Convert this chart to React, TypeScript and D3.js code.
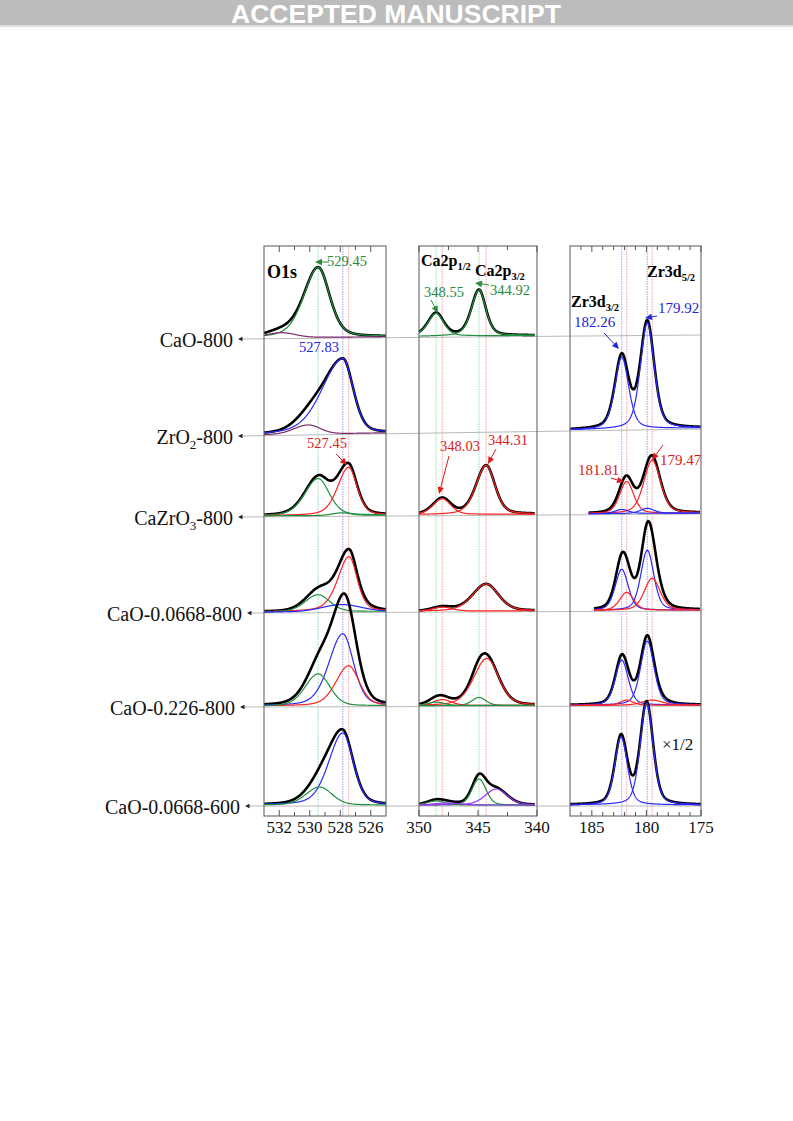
import * as d3 from 'd3';

// sample names, odd entries are subscripts
const sampleNames: string[][] = [
  ['CaO-800'],
  ['ZrO', '2', '-800'],
  ['CaZrO', '3', '-800'],
  ['CaO-0.0668-800'],
  ['CaO-0.226-800'],
  ['CaO-0.0668-600'],
];

interface Peak {
  row: number;
  be: number; // binding energy, eV
  h: number; // intensity, a.u.
  fwhm: number; // eV
  eta: number; // lorentzian fraction
  asym: number; // high-BE / low-BE half width ratio
  sp: string;
}

const o1sPeaks: Peak[] = [
  { row: 0, be: 529.45, h: 70, fwhm: 2.0, eta: 0.35, asym: 1.25, sp: 'CaO' },
  { row: 0, be: 531.9, h: 5, fwhm: 2.2, eta: 0, asym: 1, sp: 'OH' },
  { row: 1, be: 527.83, h: 75, fwhm: 2.4, eta: 0.3, asym: 2.0, sp: 'ZrO2' },
  { row: 1, be: 530.1, h: 9, fwhm: 2.0, eta: 0, asym: 1.2, sp: 'OH' },
  { row: 2, be: 529.45, h: 37, fwhm: 1.9, eta: 0.3, asym: 1.2, sp: 'CaO' },
  { row: 2, be: 527.45, h: 48, fwhm: 1.5, eta: 0.35, asym: 1.3, sp: 'CaZrO3' },
  { row: 2, be: 527.9, h: 2.5, fwhm: 1.4, eta: 0, asym: 1, sp: 'CaO' },
  { row: 3, be: 527.42, h: 55, fwhm: 1.5, eta: 0.4, asym: 1.4, sp: 'CaZrO3' },
  { row: 3, be: 529.45, h: 17, fwhm: 1.9, eta: 0.2, asym: 1.1, sp: 'CaO' },
  { row: 3, be: 527.9, h: 7, fwhm: 3.0, eta: 0, asym: 1, sp: 'ZrO2' },
  { row: 4, be: 527.83, h: 72, fwhm: 1.9, eta: 0.3, asym: 1.3, sp: 'ZrO2' },
  { row: 4, be: 527.45, h: 40, fwhm: 1.8, eta: 0.3, asym: 1.2, sp: 'CaZrO3' },
  { row: 4, be: 529.45, h: 32, fwhm: 1.9, eta: 0.2, asym: 1.1, sp: 'CaO' },
  { row: 5, be: 527.83, h: 72, fwhm: 1.9, eta: 0.3, asym: 1.35, sp: 'ZrO2' },
  { row: 5, be: 529.35, h: 18, fwhm: 2.0, eta: 0.2, asym: 1.1, sp: 'CaO' },
];

const ca2pPeaks: Peak[] = [
  { row: 0, be: 344.92, h: 46, fwhm: 1.45, eta: 0.4, asym: 1.1, sp: 'CaO' },
  { row: 0, be: 348.55, h: 23, fwhm: 1.6, eta: 0.4, asym: 1.1, sp: 'CaO' },
  { row: 2, be: 344.31, h: 49, fwhm: 1.9, eta: 0.35, asym: 1.15, sp: 'CaZrO3' },
  { row: 2, be: 348.03, h: 16, fwhm: 1.8, eta: 0.35, asym: 1.1, sp: 'CaZrO3' },
  { row: 3, be: 344.31, h: 27, fwhm: 2.6, eta: 0.3, asym: 1.1, sp: 'CaZrO3' },
  { row: 3, be: 348.03, h: 4, fwhm: 2.0, eta: 0.2, asym: 1, sp: 'CaZrO3' },
  { row: 4, be: 344.25, h: 47, fwhm: 2.5, eta: 0.3, asym: 1.1, sp: 'CaZrO3' },
  { row: 4, be: 344.92, h: 8, fwhm: 1.4, eta: 0.2, asym: 1, sp: 'CaO' },
  { row: 4, be: 348.03, h: 6, fwhm: 1.8, eta: 0.3, asym: 1, sp: 'CaZrO3' },
  { row: 4, be: 348.55, h: 3.5, fwhm: 1.6, eta: 0.2, asym: 1, sp: 'CaO' },
  { row: 5, be: 344.92, h: 26, fwhm: 1.4, eta: 0.2, asym: 1, sp: 'CaO' },
  { row: 5, be: 343.45, h: 16, fwhm: 2.2, eta: 0.3, asym: 1, sp: 'X' },
  { row: 5, be: 348.55, h: 4, fwhm: 1.8, eta: 0.2, asym: 1, sp: 'CaO' },
  { row: 5, be: 347.6, h: 2, fwhm: 2.5, eta: 0, asym: 1, sp: 'X' },
];

const zr3dPeaks: Peak[] = [
  { row: 1, be: 179.92, h: 106, fwhm: 1.5, eta: 0.4, asym: 1, sp: 'ZrO2' },
  { row: 1, be: 182.26, h: 72, fwhm: 1.5, eta: 0.4, asym: 1, sp: 'ZrO2' },
  { row: 2, be: 179.47, h: 53, fwhm: 1.8, eta: 0.35, asym: 1, sp: 'CaZrO3' },
  { row: 2, be: 181.81, h: 32, fwhm: 1.5, eta: 0.35, asym: 1, sp: 'CaZrO3' },
  { row: 2, be: 179.92, h: 5, fwhm: 1.5, eta: 0.3, asym: 1, sp: 'ZrO2' },
  { row: 2, be: 182.26, h: 4, fwhm: 1.5, eta: 0.3, asym: 1, sp: 'ZrO2' },
  { row: 3, be: 179.92, h: 60, fwhm: 1.4, eta: 0.35, asym: 1, sp: 'ZrO2' },
  { row: 3, be: 182.26, h: 41, fwhm: 1.4, eta: 0.35, asym: 1, sp: 'ZrO2' },
  { row: 3, be: 179.47, h: 32, fwhm: 1.7, eta: 0.35, asym: 1, sp: 'CaZrO3' },
  { row: 3, be: 181.81, h: 18, fwhm: 1.5, eta: 0.35, asym: 1, sp: 'CaZrO3' },
  { row: 4, be: 179.92, h: 64, fwhm: 1.45, eta: 0.35, asym: 1, sp: 'ZrO2' },
  { row: 4, be: 182.26, h: 45, fwhm: 1.4, eta: 0.35, asym: 1, sp: 'ZrO2' },
  { row: 4, be: 181.81, h: 5, fwhm: 1.4, eta: 0.2, asym: 1, sp: 'CaZrO3' },
  { row: 4, be: 179.47, h: 5, fwhm: 2.2, eta: 0.2, asym: 1, sp: 'CaZrO3' },
  { row: 5, be: 179.98, h: 102, fwhm: 1.4, eta: 0.35, asym: 1, sp: 'ZrO2' },
  { row: 5, be: 182.32, h: 68, fwhm: 1.35, eta: 0.35, asym: 1, sp: 'ZrO2' },
];

// reference binding energies (dotted lines + labels)
const o1sRefs = [
  { be: 529.45, sp: 'CaO' },
  { be: 527.83, sp: 'ZrO2' },
  { be: 527.45, sp: 'CaZrO3' },
];
const ca2pRefs = [
  { be: 348.55, sp: 'CaO' },
  { be: 344.92, sp: 'CaO' },
  { be: 348.03, sp: 'CaZrO3' },
  { be: 344.31, sp: 'CaZrO3' },
];
const zr3dRefs = [
  { be: 182.26, sp: 'ZrO2' },
  { be: 179.92, sp: 'ZrO2' },
  { be: 181.81, sp: 'CaZrO3' },
  { be: 179.47, sp: 'CaZrO3' },
];

const o1sMajor = [532, 530, 528, 526];
const o1sMinor = [531, 529, 527];
const ca2pMajor = [350, 345, 340];
const ca2pMinor = [347.5, 342.5];
const zr3dMajor = [185, 180, 175];
const zr3dMinor = [186, 184, 183, 182, 181, 179, 178, 177, 176];

// colours
const curveColor: Record<string, string> = {
  CaO: '#1f9040',
  ZrO2: '#2a2aff',
  CaZrO3: '#ff2222',
  OH: '#7b2a6e',
  X: '#9b30ff',
};
const textColor: Record<string, string> = {
  CaO: '#2b8a3e',
  ZrO2: '#2424dd',
  CaZrO3: '#dd1a1a',
};
const refColor: Record<string, string> = {
  CaO: '#b4e2c2',
  ZrO2: '#b6b6f4',
  CaZrO3: '#f7b6b6',
};

const TOP = 246;
const BOTTOM = 816;
const RIGHT_X = 701;
const lineL = [240, 240, 240, 249, 242, 247];
const lineLY = [339, 436, 517, 613, 707, 806];
const lineRY = [335, 429, 514, 611, 706, 806];
const rowY = (r: number, x: number) =>
  lineLY[r] + ((lineRY[r] - lineLY[r]) * (x - lineL[r])) / (RIGHT_X - lineL[r]);

const yI = d3.scaleLinear().domain([0, 100]).range([0, 100]);

function pv(x: number, p: Peak) {
  const d = x - p.be;
  const hw = d > 0 ? (p.fwhm / 2) * ((2 * p.asym) / (1 + p.asym)) : (p.fwhm / 2) * (2 / (1 + p.asym));
  const t = (d / hw) ** 2;
  return p.h * ((1 - p.eta) * Math.exp(-Math.LN2 * t) + p.eta / (1 + t));
}

interface PanelDef {
  x0: number;
  x1: number;
  domain: [number, number];
  major: number[];
  minor: number[];
  peaks: Peak[];
  refs: { be: number; sp: string }[];
  ranges: Record<number, [number, number]>;
}

const panels: PanelDef[] = [
  { x0: 264, x1: 386, domain: [533, 525], major: o1sMajor, minor: o1sMinor, peaks: o1sPeaks, refs: o1sRefs, ranges: {} },
  {
    x0: 419, x1: 537, domain: [350, 340], major: ca2pMajor, minor: ca2pMinor, peaks: ca2pPeaks, refs: ca2pRefs,
    ranges: { 0: [350, 340.2], 2: [350, 340.2], 3: [350, 340.2], 4: [350, 340.2], 5: [350, 340.2] },
  },
  {
    x0: 570, x1: 701, domain: [187, 175], major: zr3dMajor, minor: zr3dMinor, peaks: zr3dPeaks, refs: zr3dRefs,
    ranges: { 2: [185.3, 175.1], 3: [184.8, 175.1] },
  },
];

function Arrow({ a, color }: { a: number[]; color: string }) {
  const [x1, y1, x2, y2] = a;
  const ang = Math.atan2(y2 - y1, x2 - x1);
  const L = 7, Wd = 3.2;
  const bx = x2 - L * Math.cos(ang), by = y2 - L * Math.sin(ang);
  const px = -Math.sin(ang) * Wd, py = Math.cos(ang) * Wd;
  return (
    <g>
      <line x1={x1} y1={y1} x2={bx} y2={by} stroke={color} strokeWidth={1} />
      <polygon points={`${x2},${y2} ${bx + px},${by + py} ${bx - px},${by - py}`} fill={color} />
    </g>
  );
}

const annLayout = [
  { ref: o1sRefs[0], x: 327, y: 266, fs: 14.5, a: [329, 262, 315, 262] },
  { ref: o1sRefs[1], x: 299, y: 352, fs: 14.5 },
  { ref: o1sRefs[2], x: 307, y: 448, fs: 14.5, a: [336, 454, 347, 465] },
  { ref: ca2pRefs[0], x: 424, y: 297, fs: 14.5, a: [431, 300, 438, 313] },
  { ref: ca2pRefs[1], x: 490, y: 295, fs: 14.5, a: [489, 285, 475, 283] },
  { ref: ca2pRefs[2], x: 440, y: 451, fs: 14.5, a: [449, 456, 439, 494] },
  { ref: ca2pRefs[3], x: 488, y: 445, fs: 14.5, a: [496, 449, 488, 464] },
  { ref: zr3dRefs[0], x: 574, y: 327, fs: 15, a: [604, 333, 619, 349] },
  { ref: zr3dRefs[1], x: 658, y: 313, fs: 15, a: [657, 316, 645, 318] },
  { ref: zr3dRefs[2], x: 578, y: 475, fs: 15, a: [611, 478, 624, 482] },
  { ref: zr3dRefs[3], x: 660, y: 465, fs: 15, a: [663, 445, 652, 460] },
];

export default function App() {
  const line = d3.line<[number, number]>();

  return (
    <svg
      width={793}
      height={1121}
      style={{ position: 'absolute', left: 0, top: 0, background: '#fff' }}
      fontFamily="'Liberation Serif', 'Times New Roman', serif"
    >
      {/* header band */}
      <rect x={0} y={0} width={793} height={25} fill="#bcbcbc" />
      <line x1={0} x2={793} y1={26} y2={26} stroke="#e0e0e0" strokeWidth={2} />
      <text x={396} y={23} textAnchor="middle" fill="#fff" fontFamily="'Liberation Sans', Arial, sans-serif" fontWeight="bold" fontSize={26.5}>
        ACCEPTED MANUSCRIPT
      </text>

      {/* reference dotted lines */}
      {panels.map((p, pi) => {
        const x = d3.scaleLinear().domain(p.domain).range([p.x0, p.x1]);
        return p.refs.map((r, ri) => (
          <line key={`ref${pi}-${ri}`} x1={x(r.be)} x2={x(r.be)} y1={TOP} y2={BOTTOM} stroke={refColor[r.sp]} strokeWidth={1.3} strokeDasharray="1.5,1" />
        ));
      })}

      {/* row guide lines and labels */}
      {sampleNames.map((parts, r) => (
        <g key={`row${r}`}>
          <line x1={lineL[r]} y1={lineLY[r]} x2={RIGHT_X} y2={lineRY[r]} stroke="#a8a8a8" strokeWidth={0.8} />
          <polygon points={`${lineL[r] - 2},${lineLY[r]} ${lineL[r] + 2.5},${lineLY[r] - 2.2} ${lineL[r] + 2.5},${lineLY[r] + 2.2}`} fill="#222" />
          <text x={lineL[r] - 7} y={lineLY[r] + 7.5} textAnchor="end" fontSize={20} fill="#111">
            {parts.map((s, i) =>
              i % 2 === 1 ? (
                <tspan key={i} fontSize={13} dy={5}>{s}</tspan>
              ) : (
                <tspan key={i} dy={i > 0 ? -5 : 0}>{s}</tspan>
              )
            )}
          </text>
        </g>
      ))}

      {/* curves */}
      {panels.map((p, pi) => {
        const x = d3.scaleLinear().domain(p.domain).range([p.x0, p.x1]);
        const rows = Array.from(new Set(p.peaks.map((d) => d.row)));
        return rows.map((r) => {
          const pk = p.peaks.filter((d) => d.row === r);
          const [b0, b1] = p.ranges[r] ?? p.domain;
          const grid = d3.range(b0, b1 - 0.001, -0.02);
          const pts = (f: (be: number) => number) =>
            grid.map((be) => {
              const px = x(be);
              return [px, rowY(r, px) - 1 - yI(f(be))] as [number, number];
            });
          const env = pts((be) => d3.sum(pk, (q) => pv(be, q)));
          return (
            <g key={`c${pi}-${r}`}>
              <path d={line(env) ?? ''} fill="none" stroke="#000" strokeWidth={2.6} strokeLinejoin="round" />
              {pk.map((q, qi) => (
                <path key={qi} d={line(pts((be) => pv(be, q))) ?? ''} fill="none" stroke={curveColor[q.sp]} strokeWidth={1.2} />
              ))}
            </g>
          );
        });
      })}

      {/* frames, ticks, tick labels */}
      {panels.map((p, pi) => {
        const x = d3.scaleLinear().domain(p.domain).range([p.x0, p.x1]);
        return (
          <g key={`f${pi}`}>
            <rect x={p.x0} y={TOP} width={p.x1 - p.x0} height={BOTTOM - TOP} fill="none" stroke="#666" strokeWidth={1.1} />
            {p.major.map((t) => (
              <g key={`M${t}`}>
                <line x1={x(t)} x2={x(t)} y1={TOP} y2={TOP + 6} stroke="#555" />
                <line x1={x(t)} x2={x(t)} y1={BOTTOM} y2={BOTTOM - 6} stroke="#555" />
                <text x={x(t)} y={833} textAnchor="middle" fontSize={17} fill="#111">{t}</text>
              </g>
            ))}
            {p.minor.map((t) => (
              <g key={`m${t}`}>
                <line x1={x(t)} x2={x(t)} y1={TOP} y2={TOP + 4} stroke="#555" />
                <line x1={x(t)} x2={x(t)} y1={BOTTOM} y2={BOTTOM - 4} stroke="#555" />
              </g>
            ))}
          </g>
        );
      })}

      {/* panel titles */}
      <text x={267} y={278} fontSize={18} fontWeight="bold" fill="#000">O1s</text>
      <text x={421} y={266} fontSize={16} fontWeight="bold" fill="#000">
        Ca2p<tspan fontSize={10.5} dy={3.5}>1/2</tspan>
      </text>
      <text x={475} y={276} fontSize={16} fontWeight="bold" fill="#000">
        Ca2p<tspan fontSize={10.5} dy={3.5}>3/2</tspan>
      </text>
      <text x={647} y={277} fontSize={16} fontWeight="bold" fill="#000">
        Zr3d<tspan fontSize={10.5} dy={3.5}>5/2</tspan>
      </text>
      <text x={571} y={307} fontSize={16} fontWeight="bold" fill="#000">
        Zr3d<tspan fontSize={10.5} dy={3.5}>3/2</tspan>
      </text>

      {/* binding energy annotations */}
      {annLayout.map((a, i) => (
        <g key={`a${i}`}>
          <text x={a.x} y={a.y} fontSize={a.fs} fill={textColor[a.ref.sp]}>{a.ref.be.toFixed(2)}</text>
          {a.a && <Arrow a={a.a} color={textColor[a.ref.sp]} />}
        </g>
      ))}

      <text x={662} y={750} fontSize={17} fill="#111">×1/2</text>
    </svg>
  );
}
